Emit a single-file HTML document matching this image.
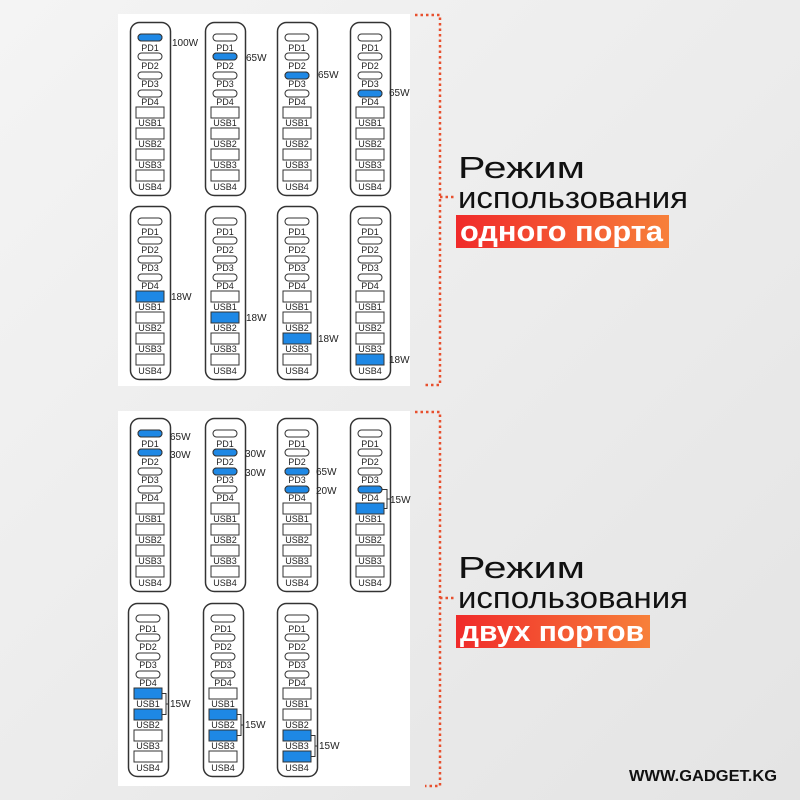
<!DOCTYPE html>
<html><head><meta charset="utf-8"><style>
html,body{margin:0;padding:0;background:#ececec;}
svg{display:block;}
.l{font-family:"Liberation Sans",sans-serif;font-size:9px;fill:#222;text-anchor:middle;}
.w{font-family:"Liberation Sans",sans-serif;font-size:10px;fill:#222;}
.h{font-family:"Liberation Sans","DejaVu Sans",sans-serif;font-size:31px;fill:#111;}
.b{font-family:"Liberation Sans","DejaVu Sans",sans-serif;font-size:29px;font-weight:bold;fill:#fff;}
</style></head><body>
<svg width="800" height="800" viewBox="0 0 800 800" xmlns="http://www.w3.org/2000/svg">
<defs>
<linearGradient id="bg" x1="0" y1="0" x2="1" y2="1"><stop offset="0" stop-color="#f4f4f4"/><stop offset="1" stop-color="#e4e4e4"/></linearGradient>
<linearGradient id="rg" x1="0" y1="0" x2="1" y2="0"><stop offset="0" stop-color="#f02a2a"/><stop offset="1" stop-color="#f7803a"/></linearGradient>
<g id="c" fill="#fff" stroke="#333" stroke-width="1">
<rect x="0.5" y="0.5" width="40" height="173" rx="9" stroke-width="1.5"/>
<rect x="8" y="12" width="24" height="7" rx="3.5"/>
<rect x="8" y="31" width="24" height="7" rx="3.5"/>
<rect x="8" y="50" width="24" height="7" rx="3.5"/>
<rect x="8" y="68" width="24" height="7" rx="3.5"/>
<rect x="6" y="85" width="28" height="11"/>
<rect x="6" y="106" width="28" height="11"/>
<rect x="6" y="127" width="28" height="11"/>
<rect x="6" y="148" width="28" height="11"/>
</g>
</defs>
<rect width="800" height="800" fill="url(#bg)"/>
<rect x="118" y="14" width="292" height="372" fill="#fff"/>
<rect x="118" y="411" width="292" height="375" fill="#fff"/>

<g fill="none" stroke="#e8502e" stroke-width="2.5" stroke-dasharray="2.5 3">
<path d="M415 15H440V385H425"/>
<path d="M440 197H455"/>
<path d="M415 412H440V786H425"/>
<path d="M440 598H455"/>
</g>

<!-- top row 1 -->
<g transform="translate(130,22)"><use href="#c"/><rect x="8" y="12" width="24" height="7" rx="3.5" fill="#1e88e5" stroke="#333"/>
<text class="l" x="20" y="29">PD1</text><text class="l" x="20" y="47">PD2</text><text class="l" x="20" y="65">PD3</text><text class="l" x="20" y="83">PD4</text><text class="l" x="20" y="104">USB1</text><text class="l" x="20" y="125">USB2</text><text class="l" x="20" y="146">USB3</text><text class="l" x="20" y="168">USB4</text></g>
<text class="w" x="172" y="46">100W</text>
<g transform="translate(205,22)"><use href="#c"/><rect x="8" y="31" width="24" height="7" rx="3.5" fill="#1e88e5" stroke="#333"/>
<text class="l" x="20" y="29">PD1</text><text class="l" x="20" y="47">PD2</text><text class="l" x="20" y="65">PD3</text><text class="l" x="20" y="83">PD4</text><text class="l" x="20" y="104">USB1</text><text class="l" x="20" y="125">USB2</text><text class="l" x="20" y="146">USB3</text><text class="l" x="20" y="168">USB4</text></g>
<text class="w" x="246" y="61">65W</text>
<g transform="translate(277,22)"><use href="#c"/><rect x="8" y="50" width="24" height="7" rx="3.5" fill="#1e88e5" stroke="#333"/>
<text class="l" x="20" y="29">PD1</text><text class="l" x="20" y="47">PD2</text><text class="l" x="20" y="65">PD3</text><text class="l" x="20" y="83">PD4</text><text class="l" x="20" y="104">USB1</text><text class="l" x="20" y="125">USB2</text><text class="l" x="20" y="146">USB3</text><text class="l" x="20" y="168">USB4</text></g>
<text class="w" x="318" y="78">65W</text>
<g transform="translate(350,22)"><use href="#c"/><rect x="8" y="68" width="24" height="7" rx="3.5" fill="#1e88e5" stroke="#333"/>
<text class="l" x="20" y="29">PD1</text><text class="l" x="20" y="47">PD2</text><text class="l" x="20" y="65">PD3</text><text class="l" x="20" y="83">PD4</text><text class="l" x="20" y="104">USB1</text><text class="l" x="20" y="125">USB2</text><text class="l" x="20" y="146">USB3</text><text class="l" x="20" y="168">USB4</text></g>
<text class="w" x="389" y="96">65W</text>

<!-- top row 2 -->
<g transform="translate(130,206)"><use href="#c"/><rect x="6" y="85" width="28" height="11" fill="#1e88e5" stroke="#333"/>
<text class="l" x="20" y="29">PD1</text><text class="l" x="20" y="47">PD2</text><text class="l" x="20" y="65">PD3</text><text class="l" x="20" y="83">PD4</text><text class="l" x="20" y="104">USB1</text><text class="l" x="20" y="125">USB2</text><text class="l" x="20" y="146">USB3</text><text class="l" x="20" y="168">USB4</text></g>
<text class="w" x="171" y="300">18W</text>
<g transform="translate(205,206)"><use href="#c"/><rect x="6" y="106" width="28" height="11" fill="#1e88e5" stroke="#333"/>
<text class="l" x="20" y="29">PD1</text><text class="l" x="20" y="47">PD2</text><text class="l" x="20" y="65">PD3</text><text class="l" x="20" y="83">PD4</text><text class="l" x="20" y="104">USB1</text><text class="l" x="20" y="125">USB2</text><text class="l" x="20" y="146">USB3</text><text class="l" x="20" y="168">USB4</text></g>
<text class="w" x="246" y="321">18W</text>
<g transform="translate(277,206)"><use href="#c"/><rect x="6" y="127" width="28" height="11" fill="#1e88e5" stroke="#333"/>
<text class="l" x="20" y="29">PD1</text><text class="l" x="20" y="47">PD2</text><text class="l" x="20" y="65">PD3</text><text class="l" x="20" y="83">PD4</text><text class="l" x="20" y="104">USB1</text><text class="l" x="20" y="125">USB2</text><text class="l" x="20" y="146">USB3</text><text class="l" x="20" y="168">USB4</text></g>
<text class="w" x="318" y="342">18W</text>
<g transform="translate(350,206)"><use href="#c"/><rect x="6" y="148" width="28" height="11" fill="#1e88e5" stroke="#333"/>
<text class="l" x="20" y="29">PD1</text><text class="l" x="20" y="47">PD2</text><text class="l" x="20" y="65">PD3</text><text class="l" x="20" y="83">PD4</text><text class="l" x="20" y="104">USB1</text><text class="l" x="20" y="125">USB2</text><text class="l" x="20" y="146">USB3</text><text class="l" x="20" y="168">USB4</text></g>
<text class="w" x="389" y="363">18W</text>

<!-- bottom row 1 -->
<g transform="translate(130,418)"><use href="#c"/><rect x="8" y="12" width="24" height="7" rx="3.5" fill="#1e88e5" stroke="#333"/><rect x="8" y="31" width="24" height="7" rx="3.5" fill="#1e88e5" stroke="#333"/>
<text class="l" x="20" y="29">PD1</text><text class="l" x="20" y="47">PD2</text><text class="l" x="20" y="65">PD3</text><text class="l" x="20" y="83">PD4</text><text class="l" x="20" y="104">USB1</text><text class="l" x="20" y="125">USB2</text><text class="l" x="20" y="146">USB3</text><text class="l" x="20" y="168">USB4</text></g>
<text class="w" x="170" y="440">65W</text><text class="w" x="170" y="458">30W</text>
<g transform="translate(205,418)"><use href="#c"/><rect x="8" y="31" width="24" height="7" rx="3.5" fill="#1e88e5" stroke="#333"/><rect x="8" y="50" width="24" height="7" rx="3.5" fill="#1e88e5" stroke="#333"/>
<text class="l" x="20" y="29">PD1</text><text class="l" x="20" y="47">PD2</text><text class="l" x="20" y="65">PD3</text><text class="l" x="20" y="83">PD4</text><text class="l" x="20" y="104">USB1</text><text class="l" x="20" y="125">USB2</text><text class="l" x="20" y="146">USB3</text><text class="l" x="20" y="168">USB4</text></g>
<text class="w" x="245" y="457">30W</text><text class="w" x="245" y="476">30W</text>
<g transform="translate(277,418)"><use href="#c"/><rect x="8" y="50" width="24" height="7" rx="3.5" fill="#1e88e5" stroke="#333"/><rect x="8" y="68" width="24" height="7" rx="3.5" fill="#1e88e5" stroke="#333"/>
<text class="l" x="20" y="29">PD1</text><text class="l" x="20" y="47">PD2</text><text class="l" x="20" y="65">PD3</text><text class="l" x="20" y="83">PD4</text><text class="l" x="20" y="104">USB1</text><text class="l" x="20" y="125">USB2</text><text class="l" x="20" y="146">USB3</text><text class="l" x="20" y="168">USB4</text></g>
<text class="w" x="316" y="475">65W</text><text class="w" x="316" y="494">20W</text>
<g transform="translate(350,418)"><use href="#c"/><rect x="8" y="68" width="24" height="7" rx="3.5" fill="#1e88e5" stroke="#333"/><rect x="6" y="85" width="28" height="11" fill="#1e88e5" stroke="#333"/>
<path d="M32 71.5H37V90.5H34M37 81H40" fill="none" stroke="#333"/>
<text class="l" x="20" y="29">PD1</text><text class="l" x="20" y="47">PD2</text><text class="l" x="20" y="65">PD3</text><text class="l" x="20" y="83">PD4</text><text class="l" x="20" y="104">USB1</text><text class="l" x="20" y="125">USB2</text><text class="l" x="20" y="146">USB3</text><text class="l" x="20" y="168">USB4</text></g>
<text class="w" x="390" y="503">15W</text>

<!-- bottom row 2 -->
<g transform="translate(128,603)"><use href="#c"/><rect x="6" y="85" width="28" height="11" fill="#1e88e5" stroke="#333"/><rect x="6" y="106" width="28" height="11" fill="#1e88e5" stroke="#333"/>
<path d="M34 90.5H38V111.5H34M38 101H41" fill="none" stroke="#333"/>
<text class="l" x="20" y="29">PD1</text><text class="l" x="20" y="47">PD2</text><text class="l" x="20" y="65">PD3</text><text class="l" x="20" y="83">PD4</text><text class="l" x="20" y="104">USB1</text><text class="l" x="20" y="125">USB2</text><text class="l" x="20" y="146">USB3</text><text class="l" x="20" y="168">USB4</text></g>
<text class="w" x="170" y="707">15W</text>
<g transform="translate(203,603)"><use href="#c"/><rect x="6" y="106" width="28" height="11" fill="#1e88e5" stroke="#333"/><rect x="6" y="127" width="28" height="11" fill="#1e88e5" stroke="#333"/>
<path d="M34 111.5H38V132.5H34M38 122H41" fill="none" stroke="#333"/>
<text class="l" x="20" y="29">PD1</text><text class="l" x="20" y="47">PD2</text><text class="l" x="20" y="65">PD3</text><text class="l" x="20" y="83">PD4</text><text class="l" x="20" y="104">USB1</text><text class="l" x="20" y="125">USB2</text><text class="l" x="20" y="146">USB3</text><text class="l" x="20" y="168">USB4</text></g>
<text class="w" x="245" y="728">15W</text>
<g transform="translate(277,603)"><use href="#c"/><rect x="6" y="127" width="28" height="11" fill="#1e88e5" stroke="#333"/><rect x="6" y="148" width="28" height="11" fill="#1e88e5" stroke="#333"/>
<path d="M34 132.5H38V153.5H34M38 143H41" fill="none" stroke="#333"/>
<text class="l" x="20" y="29">PD1</text><text class="l" x="20" y="47">PD2</text><text class="l" x="20" y="65">PD3</text><text class="l" x="20" y="83">PD4</text><text class="l" x="20" y="104">USB1</text><text class="l" x="20" y="125">USB2</text><text class="l" x="20" y="146">USB3</text><text class="l" x="20" y="168">USB4</text></g>
<text class="w" x="319" y="749">15W</text>

<!-- headings -->
<text class="h" x="458" y="178" textLength="127" lengthAdjust="spacingAndGlyphs">Режим</text>
<text class="h" x="458" y="208" textLength="230" lengthAdjust="spacingAndGlyphs">использования</text>
<rect x="456" y="215" width="213" height="33" fill="url(#rg)"/>
<text class="b" x="460" y="241" textLength="203" lengthAdjust="spacingAndGlyphs">одного порта</text>

<text class="h" x="458" y="578" textLength="127" lengthAdjust="spacingAndGlyphs">Режим</text>
<text class="h" x="458" y="608" textLength="230" lengthAdjust="spacingAndGlyphs">использования</text>
<rect x="456" y="615" width="194" height="33" fill="url(#rg)"/>
<text class="b" x="460" y="641" textLength="184" lengthAdjust="spacingAndGlyphs">двух портов</text>

<text x="629" y="781" font-family="Liberation Sans, sans-serif" font-weight="bold" font-size="16" fill="#111" textLength="148" lengthAdjust="spacingAndGlyphs">WWW.GADGET.KG</text>
</svg>
</body></html>
